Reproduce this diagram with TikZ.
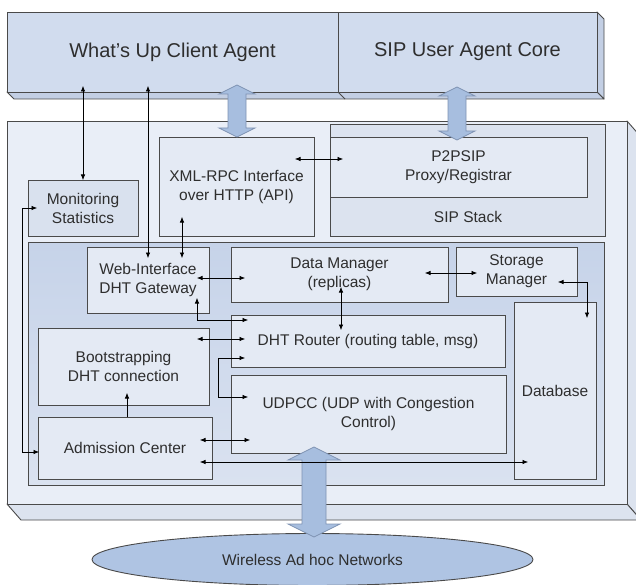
\documentclass[tikz,border=0pt]{standalone}
\usepackage{fontspec}
\setmainfont{Liberation Sans}
\usetikzlibrary{calc,arrows.meta,shapes.geometric}
\definecolor{bord}{HTML}{4A4A4A}
\definecolor{txt}{HTML}{2E2E2E}
\definecolor{topfront}{HTML}{D1DCEE}
\definecolor{topside}{HTML}{C3CFE4}
\definecolor{mainfront}{HTML}{E9EEF7}
\definecolor{mainside}{HTML}{DCE3EF}
\definecolor{areatop}{HTML}{C6D3E9}
\definecolor{areabot}{HTML}{DAE2F0}
\definecolor{boxfill}{HTML}{E4EAF4}
\definecolor{monfill}{HTML}{D9E1EE}
\definecolor{sipfill}{HTML}{DCE3EF}
\definecolor{harrow}{HTML}{A7BEDF}
\definecolor{harrowb}{HTML}{7F93B3}
\definecolor{ellfill}{HTML}{AFC4E3}
\newcommand{\hollowarrow}[6]{% x, ytop, ybot, shaft half, head half, head len
  \filldraw[fill=harrow,draw=harrowb,line width=0.8pt,line join=miter]
    (#1,#2) -- ({#1+#5},{#2+#6}) -- ({#1+#4},{#2+#6}) -- ({#1+#4},{#3-#6}) -- ({#1+#5},{#3-#6})
    -- (#1,#3) -- ({#1-#5},{#3-#6}) -- ({#1-#4},{#3-#6}) -- ({#1-#4},{#2+#6}) -- ({#1-#5},{#2+#6}) -- cycle;}
\begin{document}
\begin{tikzpicture}[x=1pt,y=-1pt,
  box/.style={draw=bord,line width=0.9pt,fill=boxfill,inner sep=0pt,outer sep=0pt,
    text=txt,align=center,font=\fontsize{15.5}{19}\selectfont},
  face/.style={draw=bord,line width=0.9pt,line join=round},
  dar/.style={{Latex[length=5.5pt,width=4.5pt]}-{Latex[length=5.5pt,width=4.5pt]},line width=0.6pt,black},
  sar/.style={-{Latex[length=5.5pt,width=4.5pt]},line width=0.6pt,black}]
\useasboundingbox (0,0) rectangle (636,585);
\clip (0,0) rectangle (636,585);

% main 3D box
\filldraw[face,fill=mainside] (627,121) -- (641,137) -- (641,520) -- (627,504) -- cycle;
\filldraw[face,fill=mainside] (7,504) -- (627,504) -- (641,520) -- (21,520) -- cycle;
\node[box,fill=mainfront,minimum width=620,minimum height=383] (main) at (317,312.5) {};

% top 3D bar
\filldraw[face,fill=topside] (597,12) -- (604,19) -- (604,99) -- (597,92) -- cycle;
\filldraw[face,fill=topside] (7,92) -- (597,92) -- (604,99) -- (14,99) -- cycle;
\draw[face] (338,92) -- (345,99);
\node[box,fill=topfront,minimum width=331,minimum height=80,font=\fontsize{20}{24}\selectfont] (agent) at (172.5,52) {What’s Up Client Agent};
\node[box,fill=topfront,minimum width=259,minimum height=80,font=\fontsize{20}{24}\selectfont] (core) at (467.5,52) {SIP User Agent Core};

% upper row
\node[box,fill=monfill,minimum width=110,minimum height=56] (mon) at (83,208) {Monitoring\\Statistics};
\node[box,minimum width=155,minimum height=99] (xml) at (236.5,186.5) {XML-RPC Interface\\over HTTP (API)};
\node[box,fill=sipfill,minimum width=275,minimum height=112] (sip) at (467.5,180) {};
\node[box,minimum width=257,minimum height=60] (p2p) at (458.5,167) {P2PSIP\\Proxy/Registrar};
\node[text=txt,font=\fontsize{15.5}{19}\selectfont,inner sep=0pt] (sipl) at (468,217) {SIP Stack};

% DHT area
\node[box,top color=areatop,bottom color=areabot,minimum width=576,minimum height=243] (area) at (316,363.5) {};
\node[box,minimum width=122,minimum height=66] (web) at (148,280) {Web-Interface\\DHT Gateway};
\node[box,minimum width=217,minimum height=55] (dm) at (339.5,274.5) {Data Manager\\(replicas)};
\node[box,minimum width=121,minimum height=49] (sm) at (516.5,271.5) {Storage\\Manager};
\node[box,minimum width=274,minimum height=52] (router) at (368,341) {DHT Router (routing table, msg)};
\node[box,minimum width=275,minimum height=78] (udp) at (368.5,414) {UDPCC (UDP with Congestion\\Control)};
\node[box,minimum width=82,minimum height=177] (db) at (555,390.5) {Database};
\node[box,minimum width=171,minimum height=77] (boot) at (123.5,366.5) {Bootstrapping\\DHT connection};
\node[box,minimum width=174,minimum height=62] (adm) at (125,448) {Admission Center};

% network ellipse
\node[ellipse,draw=bord,line width=0.9pt,fill=ellfill,minimum width=441,minimum height=52,inner sep=0pt,
  text=txt,font=\fontsize{15.5}{19}\selectfont] (net) at (312.5,559.5) {Wireless Ad hoc Networks};

% hollow double arrows
\hollowarrow{237}{85}{137}{9}{18}{9}
\hollowarrow{457}{87}{140}{9}{18}{9}
\hollowarrow{314}{447}{537}{12}{26}{13}

% connectors
\draw[dar] ($(agent.south -| mon.north)+(0,-6)$) -- (mon.north);
\draw[dar] ($(agent.south -| web.north)+(0,-6)$) -- ($(web.north)+(0,11)$);
\draw[dar] ($(xml.south)+(-54.5,-19)$) -- ($(web.north)+(34,11)$);
\draw[dar] ($(xml.east)+(-19,-27.5)$) -- ($(p2p.west)+(13,-8)$);
\draw[dar] ($(web.east)+(-12,-2)$) -- ($(dm.west)+(14,3.5)$);
\draw[dar] ($(web.south)+(49,-15)$) |- ($(router.west)+(17,-21)$);
\draw[dar] ($(dm.south)+(1.5,-15)$) -- ($(router.north)+(-27,15)$);
\draw[dar] ($(dm.east)+(-23,-1.5)$) -- ($(sm.west)+(21,1.5)$);
\draw[dar] ($(sm.east)+(-19,10.5)$) -| ($(db.north)+(32,16)$);
\draw[dar] ($(boot.east)+(-12,-27.5)$) -- ($(router.west)+(14,-2)$);
\draw[dar] ($(router.west)+(14,17)$) -- ++(-27,0) |- ($(udp.west)+(17,-17)$);
\draw[sar] ($(adm.north)+(2,0)$) -- ($(boot.south)+(3.5,-12)$);
\draw[dar] ($(adm.east)+(-12,-8)$) -- ($(udp.west)+(19,26)$);
\draw[dar] ($(adm.east)+(-12,14)$) -- ($(db.west)+(14,71.5)$);
\draw[dar] ($(adm.west)+(1,4)$) -- ++(-17,0) |- ($(mon.west)+(9,0)$);
\end{tikzpicture}
\end{document}
